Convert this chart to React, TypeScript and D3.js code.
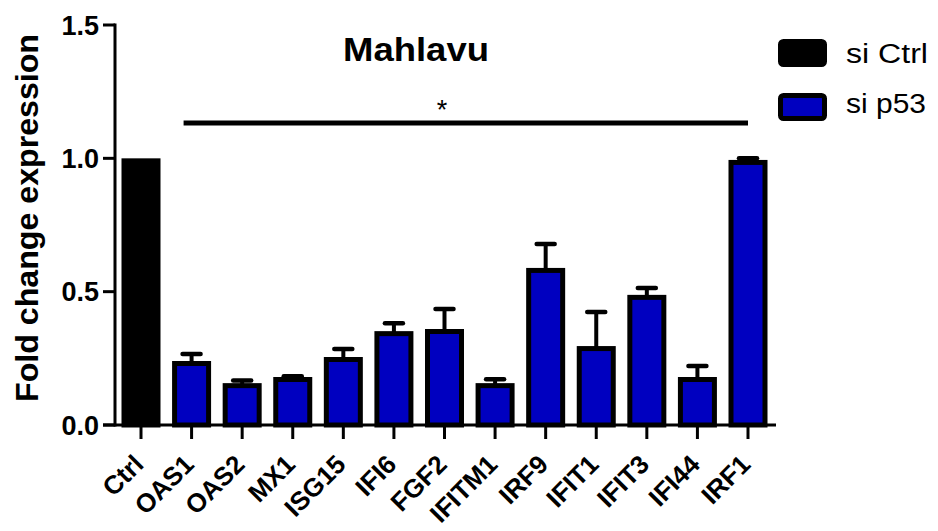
import React from "react";
import * as d3 from "d3";

const categories = ["Ctrl", "OAS1", "OAS2", "MX1", "ISG15", "IFI6", "FGF2", "IFITM1", "IRF9", "IFIT1", "IFIT3", "IFI44", "IRF1"];
const groups = ["si Ctrl", "si p53", "si p53", "si p53", "si p53", "si p53", "si p53", "si p53", "si p53", "si p53", "si p53", "si p53", "si p53"];
const means = [1.0, 0.24, 0.157, 0.18, 0.255, 0.352, 0.36, 0.157, 0.589, 0.296, 0.488, 0.18, 0.994];
const errors = [0, 0.026, 0.01, 0.003, 0.03, 0.03, 0.075, 0.015, 0.09, 0.128, 0.026, 0.041, 0.006];
const yTicks = [0, 0.5, 1.0, 1.5];
const legendItems = ["si Ctrl", "si p53"];
const colors: Record<string, string> = { "si Ctrl": "#000000", "si p53": "#0000C0" };

const W = 938;
const H = 531;
const FONT = "'Liberation Sans', Arial, sans-serif";

export default function App() {
  const y = d3.scaleLinear().domain([0, 1.5]).range([425, 25]);
  const x = d3.scalePoint<string>().domain(categories).range([141, 748]);
  const barW = 34;
  const sw = 5;
  const axisX = 115;
  const y0 = y(0);

  return (
    <div style={{ position: "fixed", left: 0, top: 0 }}>
      <svg width={W} height={H} style={{ display: "block", background: "#fff" }}>
        {/* bars */}
        {categories.map((c, i) => {
          const cx = x(c)!;
          const top = y(means[i]);
          const col = colors[groups[i]];
          return (
            <rect
              key={c}
              x={cx - barW / 2}
              y={top + sw / 2}
              width={barW}
              height={y0 - top - sw / 2}
              fill={col}
              stroke="#000"
              strokeWidth={sw}
            />
          );
        })}
        {/* error bars */}
        {categories.map((c, i) => {
          if (errors[i] <= 0) return null;
          const cx = x(c)!;
          const top = y(means[i]);
          const et = y(means[i] + errors[i]);
          return (
            <g key={"e" + c}>
              <line x1={cx} x2={cx} y1={top + 3} y2={et} stroke="#000" strokeWidth={4} />
              <line x1={cx - 9} x2={cx + 9} y1={et} y2={et} stroke="#000" strokeWidth={4.5} strokeLinecap="round" />
            </g>
          );
        })}
        {/* y axis */}
        <line x1={axisX} x2={axisX} y1={y(1.5) - 1.5} y2={y0 + 1.5} stroke="#000" strokeWidth={3} />
        {yTicks.map((t) => (
          <g key={"yt" + t}>
            <line x1={103} x2={axisX} y1={y(t)} y2={y(t)} stroke="#000" strokeWidth={3} />
            <text
              x={99}
              y={y(t)}
              dy="0.36em"
              textAnchor="end"
              fontFamily={FONT}
              fontWeight="bold"
              fontSize={27}
              fill="#000"
            >
              {t.toFixed(1)}
            </text>
          </g>
        ))}
        {/* x axis */}
        <line x1={103} x2={776} y1={y0} y2={y0} stroke="#000" strokeWidth={3} />
        {categories.map((c) => (
          <g key={"xt" + c}>
            <line x1={x(c)!} x2={x(c)!} y1={y0} y2={y0 + 14} stroke="#000" strokeWidth={3} />
            <text
              transform={`translate(${x(c)! + 4},${y0 + 41}) rotate(-45)`}
              textAnchor="end"
              fontFamily={FONT}
              fontWeight="bold"
              fontSize={26}
              fill="#000"
            >
              {c}
            </text>
          </g>
        ))}
        {/* y label */}
        <text
          transform={`translate(38,218) rotate(-90)`}
          textAnchor="middle"
          fontFamily={FONT}
          fontWeight="bold"
          fontSize={31}
          textLength={368}
          lengthAdjust="spacingAndGlyphs"
          fill="#000"
        >
          Fold change expression
        </text>
        {/* title */}
        <text
          x={343}
          y={61}
          fontFamily={FONT}
          fontWeight="bold"
          fontSize={33}
          textLength={146}
          lengthAdjust="spacingAndGlyphs"
          fill="#000"
        >
          Mahlavu
        </text>
        {/* significance */}
        <line x1={x("OAS1")! - 8} x2={x("IRF1")!} y1={123} y2={123} stroke="#000" strokeWidth={5} />
        <text x={442} y={119} textAnchor="middle" fontFamily={FONT} fontSize={27} fill="#000">
          *
        </text>
        {/* legend */}
        {legendItems.map((g, i) => (
          <g key={"lg" + g}>
            <rect
              x={780.5}
              y={41.5 + i * 54}
              width={44}
              height={23}
              rx={3}
              fill={colors[g]}
              stroke="#000"
              strokeWidth={5}
            />
            <text
              x={846}
              y={63 + i * 50}
              fontFamily={FONT}
              fontSize={27}
              textLength={i === 0 ? 82 : 80}
              lengthAdjust="spacingAndGlyphs"
              fill="#000"
            >
              {g}
            </text>
          </g>
        ))}
      </svg>
    </div>
  );
}
